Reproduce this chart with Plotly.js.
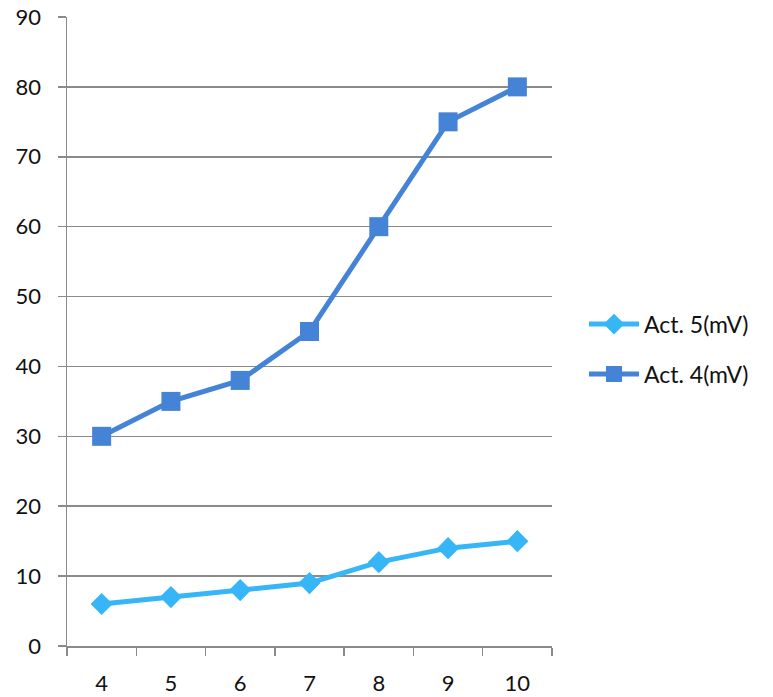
<!DOCTYPE html>
<html>
<head>
<meta charset="utf-8">
<script src="https://cdn.plot.ly/plotly-3.0.1.min.js"></script>
<style>
  html, body { margin: 0; padding: 0; background: #ffffff; }
  #chart { width: 773px; height: 697px; }
</style>
</head>
<body>
<div id="chart"></div>
<script>
// Category labels along the horizontal axis
const categories = ['4', '5', '6', '7', '8', '9', '10'];

// Measured values for each series (mV)
const act5 = [6, 7, 8, 9, 12, 14, 15];
const act4 = [30, 35, 38, 45, 60, 75, 80];

// Vertical axis ticks
const yTicks = [0, 10, 20, 30, 40, 50, 60, 70, 80, 90];

const axisGrey = '#8a8a8a';
const fontFamily = 'Lato, "Open Sans", sans-serif';

const traces = [
  {
    x: categories, y: act5, name: 'Act. 5(mV)',
    type: 'scatter', mode: 'lines+markers',
    legendgroup: 'a5',
    line: { color: '#36b6f7', width: 5 },
    marker: { symbol: 'diamond', size: 17, color: '#36b6f7' }
  },
  {
    x: categories, y: act4, name: 'Act. 4(mV)',
    type: 'scatter', mode: 'lines+markers',
    legendgroup: 'a4',
    line: { color: '#4483d5', width: 5 },
    marker: { symbol: 'square', size: 19, color: '#4483d5' }
  }
];

const layout = {
  width: 773, height: 697,
  margin: { l: 67, r: 221, t: 17, b: 51 },
  paper_bgcolor: '#ffffff', plot_bgcolor: '#ffffff',
  font: { family: fontFamily, size: 22, color: '#111111' },
  showlegend: true,
  legend: {
    x: 1.066, xanchor: 'left', y: 0.472, yanchor: 'middle',
    tracegroupgap: 17,
    itemwidth: 50,
    borderwidth: 0,
    font: { family: fontFamily, size: 23, color: '#111111' },
    bgcolor: 'rgba(0,0,0,0)'
  },
  xaxis: {
    type: 'category',
    range: [-0.5, 6.5],
    tickson: 'boundaries',
    ticks: 'outside', ticklen: 8, tickwidth: 1.5, tickcolor: axisGrey,
    showline: true, linecolor: axisGrey, linewidth: 1.5,
    showgrid: false, zeroline: false,
    ticklabelstandoff: 17,
    tickfont: { family: fontFamily, size: 22, color: '#111111' }
  },
  yaxis: {
    range: [0, 90],
    tickmode: 'array', tickvals: yTicks, ticktext: yTicks.map(String),
    ticks: 'outside', ticklen: 8, tickwidth: 1.5, tickcolor: axisGrey,
    showline: true, linecolor: axisGrey, linewidth: 1.5,
    showgrid: true, gridcolor: axisGrey, gridwidth: 1.5,
    zeroline: false,
    ticklabelstandoff: 12,
    tickfont: { family: fontFamily, size: 22, color: '#111111' }
  }
};

Plotly.newPlot('chart', traces, layout, { staticPlot: true, displayModeBar: false });
</script>
</body>
</html>
